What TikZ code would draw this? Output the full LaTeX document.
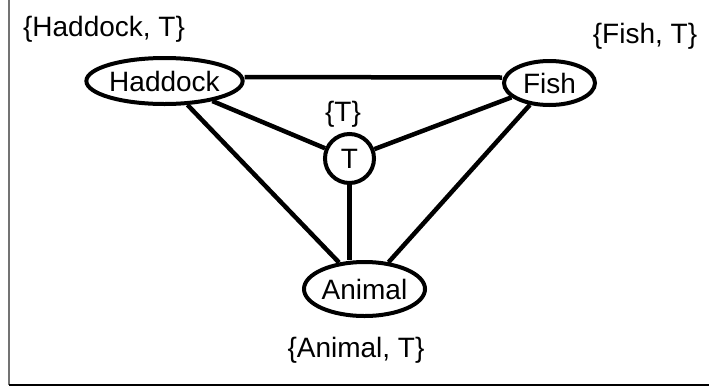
\documentclass[tikz,border=0pt]{standalone}
\usepackage{fontspec}
\setmainfont{Liberation Sans}
\usetikzlibrary{shapes.geometric}
\begin{document}
\begin{tikzpicture}[x=1pt,y=-1pt,
  ent/.style={draw=black,line width=4pt,ellipse,inner sep=0pt,font=\fontsize{28}{28}\selectfont},
  lbl/.style={inner sep=0pt,font=\fontsize{28}{28}\selectfont},
  edge/.style={line width=4.5pt,black}]
\useasboundingbox (0,0) rectangle (709,389);
\draw[gray!90!black,line width=2.5pt] (9,0) -- (9,385);
\draw[black,line width=2pt] (9,385) -- (709,385);
\node[ent,minimum width=147pt,minimum height=46pt] (had) at (164.5,81) {Haddock};
\node[ent,minimum width=91pt,minimum height=44pt] (fish) at (549.5,83) {Fish};
\node[ent,circle,minimum size=49pt] (t) at (349.5,158.5) {T};
\node[ent,minimum width=121pt,minimum height=54pt] (ani) at (364.5,289) {Animal};
\node[lbl] (lhad) at (104,29) {\{Haddock, T\}};
\node[lbl] (lfish) at (645,36) {\{Fish, T\}};
\node[lbl] (lt) at (343,114) {\{T\}};
\node[lbl] (lani) at (356,350) {\{Animal, T\}};
\draw[edge] ([yshift=4pt]had.east) -- ([yshift=5.5pt]fish.west);
\draw[edge] (had) -- (t);
\draw[edge] (had) -- (ani);
\draw[edge] (t) -- (fish);
\draw[edge] (t.south) -- (t.south |- ani.north);
\draw[edge] (fish) -- (ani);
\end{tikzpicture}
\end{document}
